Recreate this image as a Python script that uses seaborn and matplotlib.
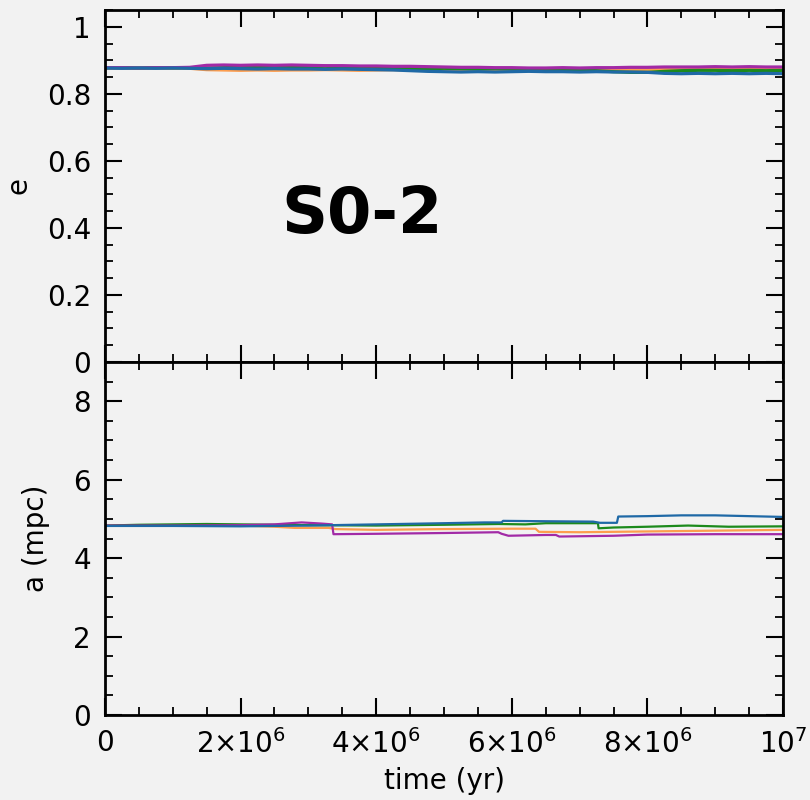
import numpy as np
import pandas as pd
import matplotlib
matplotlib.use("Agg")
import matplotlib.pyplot as plt
import seaborn as sns
from matplotlib.ticker import MultipleLocator, FuncFormatter

# ---------------- data (time in units of 1e6 yr) ----------------
series_names = ["orange", "green", "purple", "blue"]
series_colors = ["#fd9d4e", "#1c8a1c", "#a22aa6", "#1f69a6"]

t_e = [0, 0.25, 0.5, 0.75, 1.0, 1.25, 1.5, 1.75, 2.0, 2.25, 2.5, 2.75,
       3.0, 3.25, 3.5, 3.75, 4.0, 4.25, 4.5, 4.75, 5.0, 5.25, 5.5, 5.75,
       6.0, 6.25, 6.5, 6.75, 7.0, 7.25, 7.5, 7.75, 8.0, 8.25, 8.5, 8.75,
       9.0, 9.25, 9.5, 9.75, 10.0]

e_orange = [0.877, 0.877, 0.876, 0.877, 0.877, 0.876,
            0.872, 0.871, 0.870, 0.871, 0.870, 0.871,
            0.871, 0.872, 0.871, 0.870, 0.871, 0.872,
            0.871, 0.872, 0.871, 0.871, 0.872, 0.871,
            0.871, 0.870, 0.870, 0.869, 0.870, 0.871,
            0.871, 0.872, 0.873, 0.873, 0.872, 0.873,
            0.873, 0.874, 0.873, 0.873, 0.874]
e_green = [0.877, 0.878, 0.877, 0.878, 0.877, 0.878,
           0.877, 0.878, 0.879, 0.878, 0.879, 0.880,
           0.881, 0.882, 0.880, 0.878, 0.877, 0.876,
           0.876, 0.875, 0.876, 0.875, 0.874, 0.875,
           0.874, 0.873, 0.871, 0.870, 0.871, 0.869,
           0.866, 0.864, 0.864, 0.867, 0.869, 0.870,
           0.870, 0.869, 0.870, 0.869, 0.870]
e_purple = [0.878, 0.878, 0.877, 0.878, 0.878, 0.879,
            0.885, 0.886, 0.885, 0.886, 0.885, 0.886,
            0.885, 0.884, 0.884, 0.883, 0.883, 0.882,
            0.882, 0.881, 0.880, 0.879, 0.879, 0.878,
            0.878, 0.877, 0.877, 0.878, 0.877, 0.878,
            0.878, 0.879, 0.879, 0.880, 0.880, 0.880,
            0.881, 0.880, 0.881, 0.880, 0.880]
e_blue = [0.877, 0.876, 0.877, 0.876, 0.877, 0.876,
          0.875, 0.876, 0.875, 0.874, 0.875, 0.874,
          0.874, 0.873, 0.874, 0.873, 0.872, 0.871,
          0.869, 0.867, 0.866, 0.865, 0.866, 0.865,
          0.866, 0.867, 0.866, 0.866, 0.865, 0.866,
          0.865, 0.865, 0.864, 0.861, 0.860, 0.861,
          0.860, 0.861, 0.860, 0.861, 0.860]

t_a_orange = [0, 1, 2, 2.5, 2.8, 3.3, 3.4, 4, 5, 6, 6.35, 6.4, 7, 8, 9, 10]
a_orange = [4.83, 4.84, 4.83, 4.80, 4.77, 4.77, 4.74, 4.72, 4.74, 4.75,
            4.75, 4.67, 4.66, 4.68, 4.70, 4.72]

t_a_green = [0, 0.5, 1, 1.5, 2, 2.5, 3, 4, 5, 5.8, 6.2, 6.5, 7.27, 7.28,
             7.5, 8, 8.6, 9.2, 10]
a_green = [4.83, 4.85, 4.86, 4.87, 4.86, 4.85, 4.84, 4.83, 4.85, 4.87,
           4.86, 4.89, 4.89, 4.76, 4.78, 4.80, 4.83, 4.80, 4.81]

t_a_purple = [0, 1, 2, 2.5, 2.9, 3.2, 3.35, 3.37, 4, 5, 5.8, 5.85, 5.95,
              6.5, 6.65, 6.7, 7.5, 8, 9, 10]
a_purple = [4.83, 4.83, 4.84, 4.86, 4.91, 4.88, 4.86, 4.61, 4.62, 4.64,
            4.66, 4.62, 4.57, 4.59, 4.59, 4.55, 4.57, 4.60, 4.61, 4.61]

t_a_blue = [0, 1, 2, 3, 4, 5, 5.6, 5.85, 5.87, 6.5, 7.2, 7.3, 7.55, 7.57,
            8, 8.5, 9, 9.5, 10]
a_blue = [4.82, 4.82, 4.81, 4.83, 4.86, 4.89, 4.91, 4.91, 4.95, 4.94,
          4.93, 4.90, 4.90, 5.06, 5.07, 5.09, 5.09, 5.07, 5.05]

xtick_values = [0, 2e6, 4e6, 6e6, 8e6, 1e7]

# ---------------- tables ----------------
e_map = {"orange": e_orange, "green": e_green, "purple": e_purple, "blue": e_blue}
a_map = {"orange": (t_a_orange, a_orange), "green": (t_a_green, a_green),
         "purple": (t_a_purple, a_purple), "blue": (t_a_blue, a_blue)}

df_e = pd.concat([pd.DataFrame({"t": np.array(t_e) * 1e6, "v": e_map[n], "s": n})
                  for n in series_names], ignore_index=True)
df_a = pd.concat([pd.DataFrame({"t": np.array(a_map[n][0]) * 1e6, "v": a_map[n][1], "s": n})
                  for n in series_names], ignore_index=True)
palette = dict(zip(series_names, series_colors))

# ---------------- figure ----------------
sns.set_theme(style="ticks")
plt.rcParams["font.family"] = ["DejaVu Sans"]
plt.rcParams["mathtext.fontset"] = "dejavusans"
plt.rcParams["text.color"] = "black"
plt.rcParams["axes.labelcolor"] = "black"
plt.rcParams["xtick.color"] = "black"
plt.rcParams["ytick.color"] = "black"

bg = "#f2f2f2"
fig = plt.figure(figsize=(8.1, 8.0), dpi=100, facecolor=bg)
ax1 = fig.add_axes([0.1296, 0.5475, 0.8371, 0.44])
ax2 = fig.add_axes([0.1296, 0.10625, 0.8371, 0.44125], sharex=ax1)

sns.lineplot(data=df_e, x="t", y="v", hue="s", palette=palette, sort=False,
             estimator=None, linewidth=2.3, legend=False, ax=ax1)
sns.lineplot(data=df_a, x="t", y="v", hue="s", palette=palette, sort=False,
             estimator=None, linewidth=1.6, legend=False, ax=ax2)


def xfmt(v, pos):
    if v == 0:
        return "0"
    if abs(v - 1e7) < 1:
        return r"10$^{7}$"
    return "%d×10$^{6}$" % round(v / 1e6)


for ax in (ax1, ax2):
    ax.set_facecolor(bg)
    ax.set_xlim(0, 1e7)
    ax.xaxis.set_major_locator(matplotlib.ticker.FixedLocator(xtick_values))
    ax.xaxis.set_minor_locator(MultipleLocator(5e5))
    ax.tick_params(which="both", direction="in", top=True, right=True,
                   color="black", labelcolor="black", labelsize=20, pad=10)
    ax.tick_params(which="major", length=12, width=1.5)
    ax.tick_params(which="minor", length=6, width=1.3)
    for sp in ax.spines.values():
        sp.set_linewidth(2)
        sp.set_color("black")
    ax.yaxis.set_major_formatter(FuncFormatter(lambda v, p: "%g" % round(v, 3)))

ax1.set_ylim(0, 1.05)
ax1.yaxis.set_major_locator(MultipleLocator(0.2))
ax1.yaxis.set_minor_locator(MultipleLocator(0.05))
ax1.tick_params(labelbottom=False)
ax1.set_xlabel("")
ax1.set_ylabel("e", fontsize=20, color="black", labelpad=10)

ax2.set_ylim(0, 9)
ax2.yaxis.set_major_locator(MultipleLocator(2))
ax2.yaxis.set_minor_locator(MultipleLocator(0.5))
ax2.xaxis.set_major_formatter(FuncFormatter(xfmt))
ax2.set_xlabel("time (yr)", fontsize=20, labelpad=6, color="black")
ax2.set_ylabel("a (mpc)", fontsize=20, color="black", labelpad=17)

ax1.text(0.379, 0.418, "S0-2", transform=ax1.transAxes, fontsize=46,
         fontweight="bold", ha="center", va="center", color="black")

fig.savefig("out.png", dpi=100, facecolor=bg)
